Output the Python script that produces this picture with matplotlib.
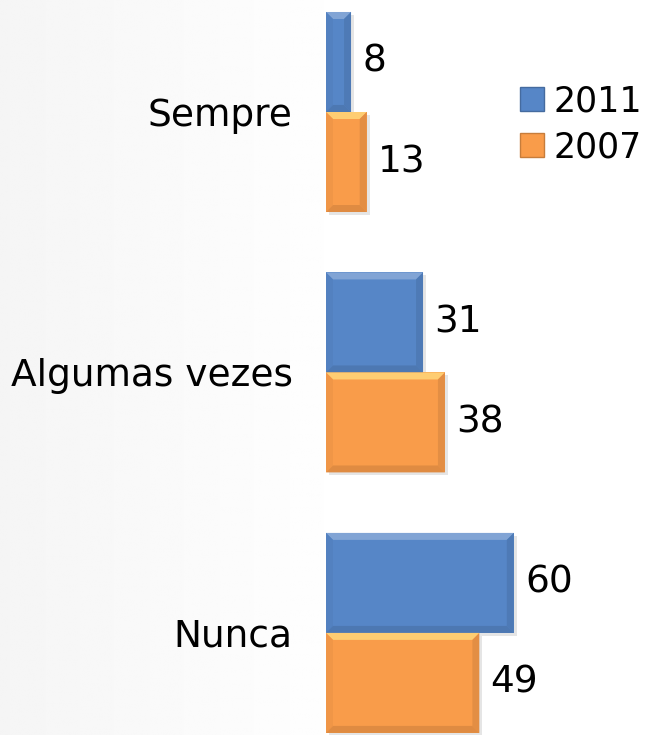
import numpy as np
import matplotlib.pyplot as plt
from matplotlib.patches import Polygon, Patch
from matplotlib.colors import to_rgb

# Survey answers, percentage per year
categories = ["Sempre", "Algumas vezes", "Nunca"]
years = ["2011", "2007"]
values_2011 = [8, 31, 60]
values_2007 = [13, 38, 49]

BLUE = "#5686C7"
ORANGE = "#F99C4A"


def shade(color, f):
    c = np.array(to_rgb(color))
    if f >= 0:
        return tuple(c + (1 - c) * f)
    return tuple(c * (1 + f))


def bevel(ax, bar, color, b=7):
    """Draw a simple bevel frame on a bar, sizes in pixels."""
    (x0, y0), (x1, y1) = ax.transData.transform(
        [(bar.get_x(), bar.get_y()), (bar.get_x() + bar.get_width(), bar.get_y() + bar.get_height())])
    left, right = min(x0, x1), max(x0, x1)
    bot, top = min(y0, y1), max(y0, y1)
    top_c = (1, 0.84, 0.48) if color == ORANGE else shade(color, 0.3)
    faces = [
        ([(left, top), (right, top), (right - b, top - b), (left + b, top - b)], top_c),
        ([(left, top), (left + b, top - b), (left + b, bot + b), (left, bot)], shade(color, -0.04)),
        ([(right, top), (right - b, top - b), (right - b, bot + b), (right, bot)], shade(color, -0.1)),
        ([(left, bot), (left + b, bot + b), (right - b, bot + b), (right, bot)], shade(color, -0.12)),
    ]
    # soft drop shadow behind the bar
    ax.add_patch(Polygon([(left + 3, bot - 3), (right + 3, bot - 3), (right + 3, top - 3), (left + 3, top - 3)],
                         closed=True, transform=None, facecolor=(0, 0, 0, 0.1),
                         edgecolor="none", zorder=1, clip_on=False))
    for pts, c in faces:
        ax.add_patch(Polygon(pts, closed=True, transform=None, facecolor=c,
                             edgecolor="none", alpha=0.85, zorder=3, clip_on=False))


fig = plt.figure(figsize=(6.52, 7.35), dpi=100)
fig.patch.set_facecolor("white")

# faint grey haze on the left side
bg = fig.add_axes([0, 0, 0.55, 1], zorder=-5)
grad = np.linspace(0.96, 1.0, 200)[None, :] * np.ones((50, 1))
bg.imshow(grad, cmap="gray", vmin=0, vmax=1, aspect="auto", extent=[0, 1, 0, 1])
bg.axis("off")

ax = fig.add_axes([326 / 652, 0, 1 - 326 / 652, 1])
ax.patch.set_alpha(0)
px_per_unit = 3.13
ax.set_xlim(0, (652 - 326) / px_per_unit)
ax.set_ylim(2.392, -0.43)

y = np.arange(len(categories))
h = 0.384
bars_2011 = ax.barh(y - h / 2, values_2011, height=h, color=BLUE, zorder=2)
bars_2007 = ax.barh(y + h / 2, values_2007, height=h, color=ORANGE, zorder=2)

for bars, vals, col in [(bars_2011, values_2011, BLUE), (bars_2007, values_2007, ORANGE)]:
    for bar, v in zip(bars, vals):
        bevel(ax, bar, col)
        ax.annotate(str(v), (v, bar.get_y() + bar.get_height() / 2), xytext=(8, 0),
                    textcoords="offset points", va="center", ha="left", fontsize=27)

ax.set_yticks(y)
ax.set_yticklabels(categories, fontsize=27)
ax.tick_params(axis="y", length=0, pad=24)
ax.set_xticks([])
for s in ax.spines.values():
    s.set_visible(False)

handles = [Patch(facecolor=BLUE, edgecolor=shade(BLUE, -0.2)),
           Patch(facecolor=ORANGE, edgecolor=shade(ORANGE, -0.2))]
ax.legend(handles, years, loc="upper left", bbox_to_anchor=(520 / 652, 1 - 84 / 735),
          bbox_transform=fig.transFigure, frameon=False, fontsize=25,
          handlelength=0.7, handleheight=0.7, handletextpad=0.27,
          labelspacing=0.35, borderpad=0, borderaxespad=0)

fig.savefig("out.png", dpi=100)
